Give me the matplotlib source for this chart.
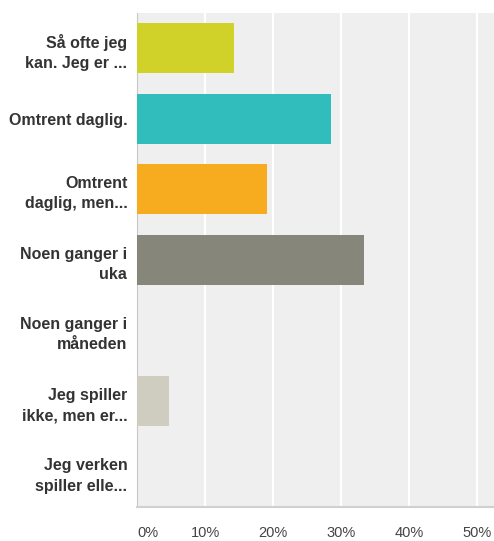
import matplotlib.pyplot as plt

categories = ["Så ofte jeg\nkan. Jeg er ...", "Omtrent daglig.", "Omtrent\ndaglig, men...",
              "Noen ganger i\nuka", "Noen ganger i\nmåneden", "Jeg spiller\nikke, men er...",
              "Jeg verken\nspiller elle..."]
percent = [14.29, 28.57, 19.05, 33.33, 0, 4.76, 0]
colors = ["#d0d22a", "#32bdbd", "#f7ac1f", "#86877a", "#8e8e8e", "#cfcdbf", "#c0c0c0"]
ticks = [0, 10, 20, 30, 40, 50]

plt.rcParams['font.family'] = ['Liberation Sans', 'DejaVu Sans']

fig = plt.figure(figsize=(4.94, 5.41), dpi=100)
ax = fig.add_axes([137 / 494, 34 / 541, 357 / 494, 494 / 541])
ax.set_facecolor("#efefef")

pos = list(range(len(categories)))
ax.barh(pos, percent, height=0.71, color=colors, zorder=3)
ax.set_ylim(len(categories) - 0.5, -0.5)
ax.set_xlim(0, 52.5)

ax.set_xticks(ticks)
ax.set_xticklabels([f"{t}%" for t in ticks])
ax.xaxis.grid(True, color="white", linewidth=1.6, zorder=1)
ax.tick_params(axis="x", length=0, pad=14, labelsize=10.5, labelcolor="#444444")
ax.get_xticklabels()[0].set_horizontalalignment("left")

ax.set_yticks(pos)
ax.set_yticklabels(categories, fontweight="bold", fontsize=11.5, color="#333333",
                   linespacing=1.45)
ax.tick_params(axis="y", length=0, pad=7)

for s in ["top", "right"]:
    ax.spines[s].set_visible(False)
ax.spines["left"].set_color("#c8c8c8")
ax.spines["bottom"].set_color("#d0d0d0")
ax.spines["bottom"].set_linewidth(1.5)

fig.savefig("out.png", dpi=100)
